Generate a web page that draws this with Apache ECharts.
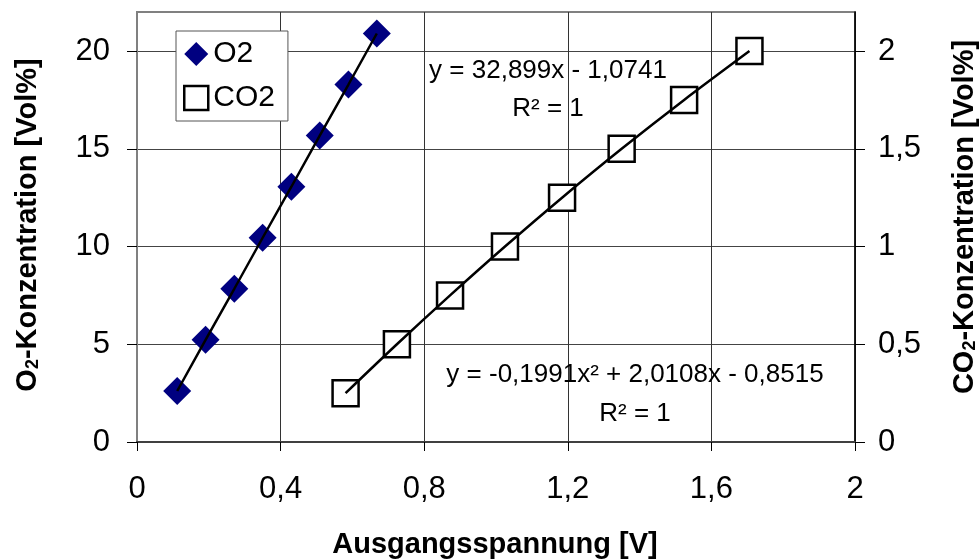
<!DOCTYPE html>
<html><head><meta charset="utf-8">
<script src="https://cdn.jsdelivr.net/npm/echarts@6/dist/echarts.min.js"></script>
<style>html,body{margin:0;padding:0;background:#fff}#c{width:980px;height:560px}</style>
</head><body><div id="c"></div>
<script>
// O2 series (left axis)
const o2Voltage = [0.112, 0.191, 0.271, 0.350, 0.430, 0.509, 0.589, 0.668];
const o2Conc    = [2.61, 5.23, 7.84, 10.45, 13.06, 15.68, 18.29, 20.9];
// CO2 series (right axis)
const co2Voltage = [0.581, 0.724, 0.872, 1.025, 1.184, 1.350, 1.524, 1.706];
const co2Conc    = [0.25, 0.5, 0.75, 1.0, 1.25, 1.5, 1.75, 2.0];
// tick values
const xTicks = [0, 0.4, 0.8, 1.2, 1.6, 2];
const yLeftTicks = [0, 5, 10, 15, 20];
const yRightTicks = [0, 0.5, 1, 1.5, 2];
const legendNames = ['O2', 'CO2'];
const eq1 = ['y = 32,899x - 1,0741', 'R² = 1'];
const eq2 = ['y = -0,1991x² + 2,0108x - 0,8515', 'R² = 1'];

const FONT = '"Liberation Sans", Arial, sans-serif';
const comma = v => String(+v.toFixed(3)).replace('.', ',');
const zip = (a, b) => a.map((v, i) => [v, b[i]]);

const chart = echarts.init(document.getElementById('c'), null, {renderer: 'canvas'});
chart.setOption({
  animation: false,
  backgroundColor: '#fff',
  grid: {left: 137, right: 125, top: 12, bottom: 118, show: true, borderColor: '#808080', borderWidth: 2, backgroundColor: '#fff'},
  legend: {
    left: 176, top: 31, orient: 'vertical',
    padding: [8, 13, 8, 7], itemGap: 14, itemWidth: 24, itemHeight: 24,
    backgroundColor: '#fff', borderColor: '#555', borderWidth: 1,
    selectedMode: false,
    textStyle: {fontFamily: FONT, fontSize: 30, color: '#000'},
    data: [
      {name: legendNames[0], icon: 'diamond', itemStyle: {color: '#000080', opacity: 1}},
      {name: legendNames[1], icon: 'rect', itemStyle: {color: '#fff', borderColor: '#000', borderWidth: 2.5, opacity: 1}}
    ]
  },
  xAxis: {
    type: 'value', min: 0, max: 2, interval: 0.4,
    axisLine: {show: true, onZero: false, lineStyle: {color: '#404040', width: 2}},
    axisTick: {show: true, inside: false, length: 9, lineStyle: {color: '#000', width: 1}, customValues: xTicks},
    axisLabel: {fontFamily: FONT, fontSize: 31, color: '#000', margin: 32, formatter: comma, customValues: xTicks},
    splitLine: {show: true, lineStyle: {color: '#333', width: 1}}
  },
  yAxis: [
    {
      type: 'value', min: 0, max: 22, interval: 5, position: 'left',
      axisLine: {show: true, lineStyle: {color: '#808080', width: 2}},
      axisTick: {show: true, inside: false, length: 10, lineStyle: {color: '#000', width: 1}, customValues: yLeftTicks},
      axisLabel: {fontFamily: FONT, fontSize: 31, color: '#000', margin: 27, formatter: comma, customValues: yLeftTicks},
      splitLine: {show: true, lineStyle: {color: '#444', width: 1}}
    },
    {
      type: 'value', min: 0, max: 2.2, interval: 0.5, position: 'right',
      axisLine: {show: true, lineStyle: {color: '#000', width: 1.5}},
      axisTick: {show: true, inside: false, length: 10, lineStyle: {color: '#000', width: 1}, customValues: yRightTicks},
      axisLabel: {fontFamily: FONT, fontSize: 31, color: '#000', margin: 23, formatter: comma, customValues: yRightTicks},
      splitLine: {show: false}
    }
  ],
  series: [
    {name: legendNames[0], type: 'scatter', yAxisIndex: 0, data: zip(o2Voltage, o2Conc),
     symbol: 'diamond', symbolSize: 28, itemStyle: {color: '#000080', opacity: 1}, z: 2},
    {name: legendNames[1], type: 'scatter', yAxisIndex: 1, data: zip(co2Voltage, co2Conc),
     symbol: 'rect', symbolSize: 26, itemStyle: {color: '#fff', borderColor: '#000', borderWidth: 2.5, opacity: 1}, z: 2},
    {name: 'O2 trend', type: 'line', yAxisIndex: 0, data: zip(o2Voltage, o2Conc), showSymbol: false, symbol: 'none',
     lineStyle: {color: '#000', width: 2.5}, silent: true, z: 3},
    {name: 'CO2 trend', type: 'line', yAxisIndex: 1, data: zip(co2Voltage, co2Conc), showSymbol: false, symbol: 'none',
     smooth: 0.3, lineStyle: {color: '#000', width: 2.5}, silent: true, z: 3}
  ],
  graphic: [
    {type: 'text', x: 548, y: 71, z: 10, style: {text: eq1[0], font: '26px ' + FONT, fill: '#000', align: 'center', verticalAlign: 'middle'}},
    {type: 'text', x: 548, y: 109, z: 10, style: {text: eq1[1], font: '26px ' + FONT, fill: '#000', align: 'center', verticalAlign: 'middle'}},
    {type: 'text', x: 635, y: 375, z: 10, style: {text: eq2[0], font: '26px ' + FONT, fill: '#000', align: 'center', verticalAlign: 'middle'}},
    {type: 'text', x: 635, y: 414, z: 10, style: {text: eq2[1], font: '26px ' + FONT, fill: '#000', align: 'center', verticalAlign: 'middle'}},
    {type: 'text', x: 495, y: 545, z: 10, style: {text: 'Ausgangsspannung [V]', font: 'bold 29px ' + FONT, fill: '#000', align: 'center', verticalAlign: 'middle'}},
    {type: 'text', x: 28, y: 225, rotation: Math.PI / 2, z: 10, style: {
      text: '{b|O}{s|2}{b|-Konzentration [Vol%]}', align: 'center', verticalAlign: 'middle',
      rich: {b: {font: 'bold 29px ' + FONT, fill: '#000', verticalAlign: 'bottom'}, s: {font: 'bold 18px ' + FONT, fill: '#000', verticalAlign: 'bottom'}}}},
    {type: 'text', x: 965, y: 217, rotation: Math.PI / 2, z: 10, style: {
      text: '{b|CO}{s|2}{b|-Konzentration [Vol%]}', align: 'center', verticalAlign: 'middle',
      rich: {b: {font: 'bold 29px ' + FONT, fill: '#000', verticalAlign: 'bottom'}, s: {font: 'bold 18px ' + FONT, fill: '#000', verticalAlign: 'bottom'}}}}
  ]
});
</script>
</body></html>
